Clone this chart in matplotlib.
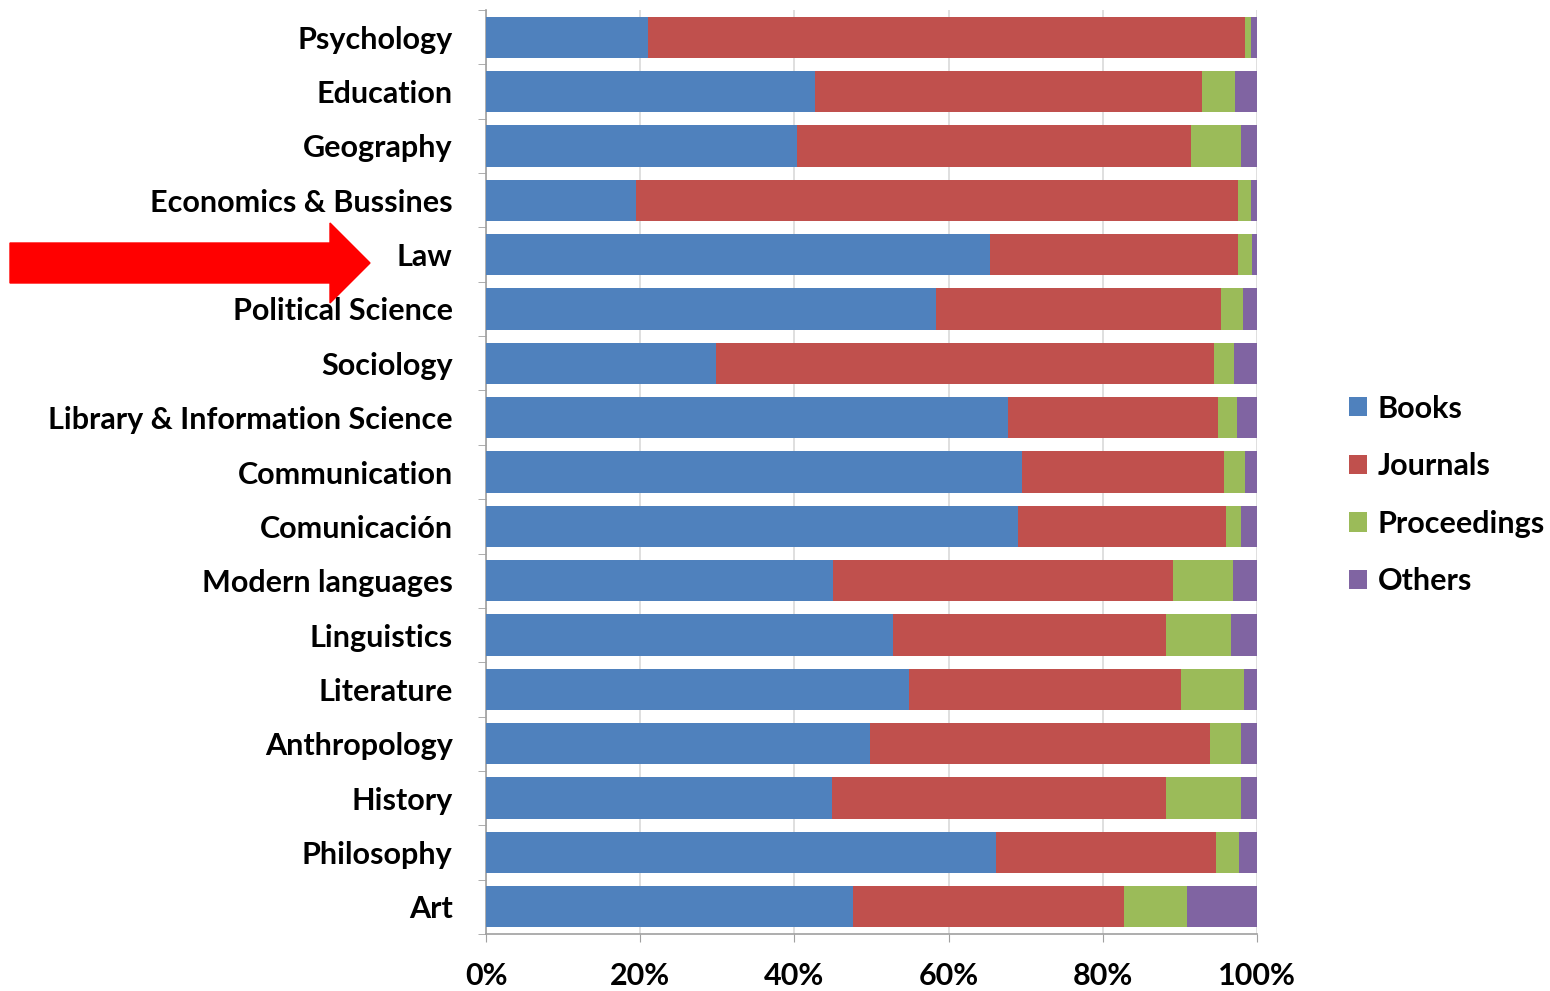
#!/usr/bin/env python3
"""Share of cited document types by discipline (stacked 100% bars)."""

import matplotlib

matplotlib.use("Agg")
import matplotlib.pyplot as plt
import numpy as np
from matplotlib.patches import FancyArrow

OUTPUT_FILE = "out.png"

DISCIPLINES = [
    "Psychology",
    "Education",
    "Geography",
    "Economics & Bussines",
    "Law",
    "Political Science",
    "Sociology",
    "Library & Information Science",
    "Communication",
    "Comunicación",
    "Modern languages",
    "Linguistics",
    "Literature",
    "Anthropology",
    "History",
    "Philosophy",
    "Art",
]

# percentages (top to bottom)
BOOKS = [21.0, 42.7, 40.3, 19.5, 65.4, 58.4, 29.8, 67.7, 69.5, 69.0, 45.0, 52.8, 54.9, 49.8, 44.9, 66.1, 47.6]
JOURNALS = [77.4, 50.2, 51.1, 78.0, 32.1, 36.9, 64.6, 27.2, 26.2, 27.0, 44.1, 35.4, 35.2, 44.1, 43.3, 28.6, 35.1]
PROCEEDINGS = [0.8, 4.2, 6.5, 1.7, 1.9, 2.9, 2.6, 2.5, 2.7, 1.9, 7.8, 8.4, 8.2, 4.0, 9.7, 3.0, 8.2]
OTHERS = [0.8, 2.9, 2.1, 0.8, 0.6, 1.8, 3.0, 2.6, 1.6, 2.1, 3.1, 3.4, 1.7, 2.1, 2.1, 2.3, 9.1]

SERIES = [
    ("Books", BOOKS, "#4F81BD"),
    ("Journals", JOURNALS, "#C0504D"),
    ("Proceedings", PROCEEDINGS, "#9BBB59"),
    ("Others", OTHERS, "#8064A2"),
]

FONT = ["Lato", "DejaVu Sans"]
FONT_SIZE = 22


def main() -> None:
    plt.rcParams["font.family"] = FONT
    plt.rcParams["font.weight"] = "bold"

    fig = plt.figure(figsize=(15.5, 9.91), dpi=100)
    fig.patch.set_facecolor("white")
    ax = fig.add_axes([486 / 1550, 1 - 934 / 991, 771 / 1550, 924 / 991])

    n = len(DISCIPLINES)
    y = np.arange(n)[::-1]
    left = np.zeros(n)
    for name, values, color in SERIES:
        vals = np.array(values) / 100.0
        ax.barh(y, vals, left=left, height=0.76, color=color, label=name, zorder=3)
        left += vals

    ax.set_xlim(0, 1)
    ax.set_ylim(-0.5, n - 0.5)
    ax.set_xticks(np.linspace(0, 1, 6))
    ax.set_xticklabels([f"{int(v)}%" for v in np.linspace(0, 100, 6)], fontsize=FONT_SIZE, fontweight="bold")
    ax.set_yticks(y)
    ax.set_yticklabels(DISCIPLINES, fontsize=FONT_SIZE, fontweight="bold")
    ax.set_yticks(np.arange(n + 1) - 0.5, minor=True)
    ax.tick_params(axis="y", which="major", length=0, pad=24)
    ax.tick_params(axis="y", which="minor", length=6, color="#a0a0a0", direction="out")
    ax.tick_params(axis="x", which="major", length=6, color="#a0a0a0", pad=14)

    ax.grid(True, axis="x", color="#d9d9d9", linewidth=1.2, zorder=0)
    ax.set_axisbelow(True)
    for side in ("top", "right"):
        ax.spines[side].set_visible(False)
    for side in ("left", "bottom"):
        ax.spines[side].set_color("#a0a0a0")
        ax.spines[side].set_linewidth(1.2)

    fig.legend(
        loc="center left",
        bbox_to_anchor=(1321 / 1550, 1 - 495 / 991),
        frameon=False,
        fontsize=FONT_SIZE,
        handlelength=0.6,
        handleheight=0.6,
        handletextpad=0.35,
        labelspacing=0.97,
    )

    # red arrow pointing at "Law"
    arrow = FancyArrow(
        10 / 1550,
        1 - 263 / 991,
        360 / 1550,
        0,
        width=40 / 991,
        head_width=80 / 991,
        head_length=40 / 1550,
        length_includes_head=True,
        color="#FF0000",
        transform=fig.transFigure,
    )
    fig.patches.append(arrow)

    fig.savefig(OUTPUT_FILE, dpi=100)
    plt.close(fig)


if __name__ == "__main__":
    main()
